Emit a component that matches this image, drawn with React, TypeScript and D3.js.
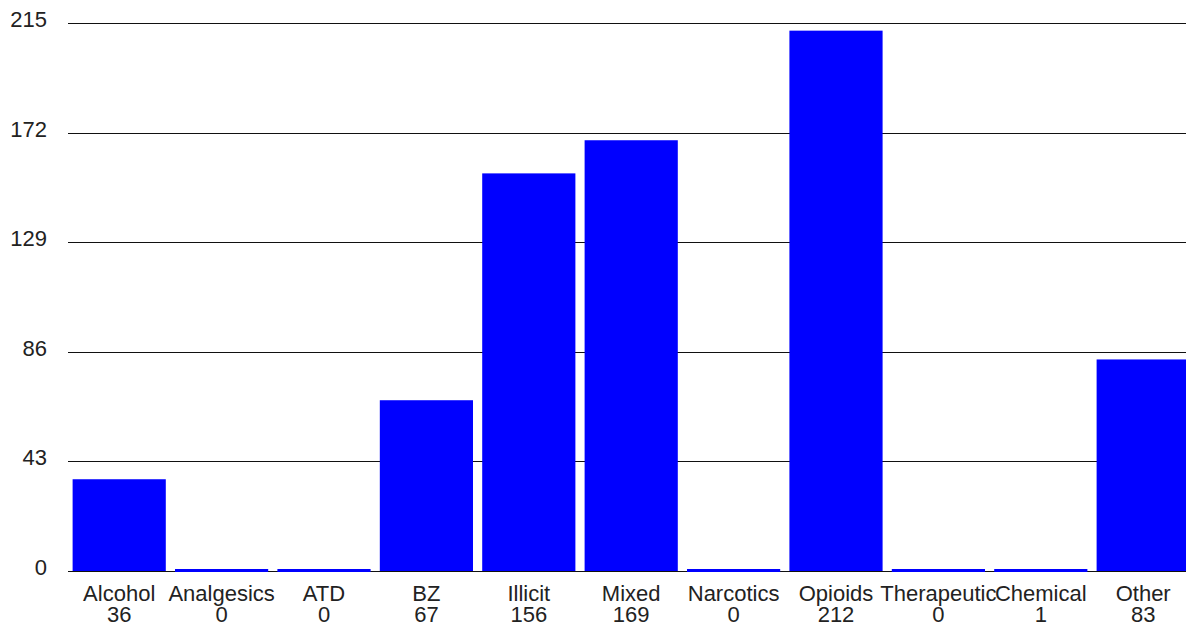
import React from "react";
import * as d3 from "d3";

const categories = ["Alcohol", "Analgesics", "ATD", "BZ", "Illicit", "Mixed", "Narcotics", "Opioids", "Therapeutic", "Chemical", "Other"];
const values = [36, 0, 0, 67, 156, 169, 0, 212, 0, 1, 83];
const yTicks = [0, 43, 86, 129, 172, 215];

const W = 1186;
const H = 629;

export default function App() {
  const x = d3.scaleBand<string>().domain(categories).range([68, 1194.4]).paddingInner(0.09).paddingOuter(0.045);
  const y = d3.scaleLinear().domain([0, 215]).range([571, 23]);
  const font = "'Liberation Sans', Arial, Helvetica, sans-serif";
  const minH = 3;
  return (
    <svg width={W} height={H} style={{ position: "absolute", left: 0, top: 0, background: "#fff" }} fontFamily={font}>
      {yTicks.map((t) => {
        const yy = Math.round(y(t)) + 0.5;
        return (
          <g key={t}>
            <line x1={68} x2={W} y1={yy} y2={yy} stroke="#111" strokeWidth={1.2} />
            <text x={47} y={y(t) + 4} textAnchor="end" fontSize={22} fill="#222">{t}</text>
          </g>
        );
      })}
      {categories.map((c, i) => {
        const v = values[i];
        const top = y(v);
        const h = Math.max(y(0) - top, minH);
        const bx = x(c) as number;
        const cx = bx + x.bandwidth() / 2;
        return (
          <g key={c}>
            <rect x={bx} y={v === 0 || y(0) - top < minH ? y(0) - minH + 1 : top} width={x.bandwidth()} height={h} fill="#0000ff" />
            <text x={cx} y={601} textAnchor="middle" fontSize={22} fill="#222">{c}</text>
            <text x={cx} y={622} textAnchor="middle" fontSize={22} fill="#222">{v}</text>
          </g>
        );
      })}
    </svg>
  );
}
